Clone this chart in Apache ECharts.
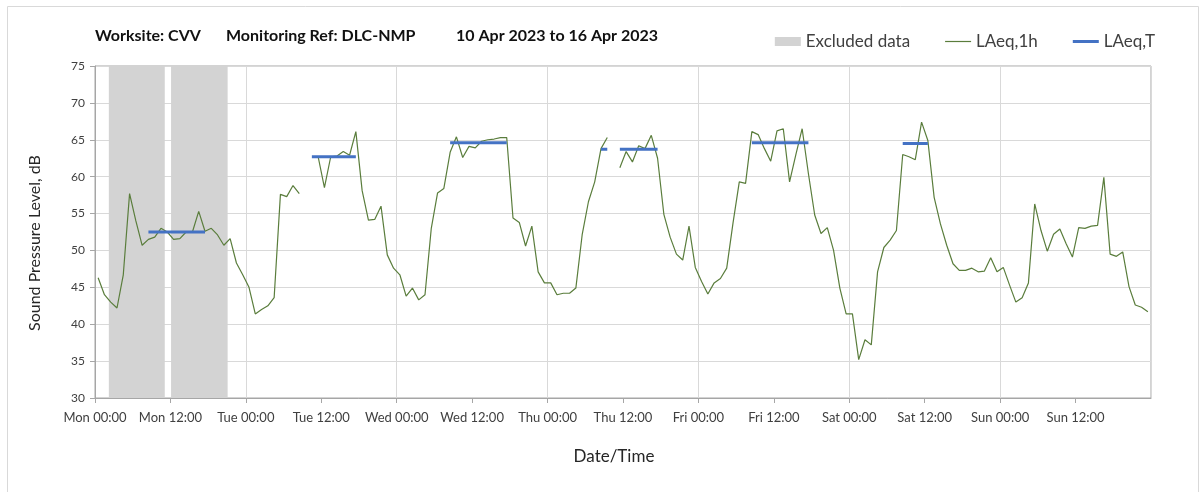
<!DOCTYPE html>
<html>
<head>
<meta charset="utf-8">
<script src="https://cdn.jsdelivr.net/npm/echarts@6/dist/echarts.min.js"></script>
<style>
    html, body { margin: 0; padding: 0; background: #fff; }
    #chart { width: 1203px; height: 492px; }
</style>
</head>
<body>
<div id="chart"></div>
<script>
// hourly LAeq,1h values, Mon 00:00 to Sun 23:00 (null = no data)
const laeq1h = [
    46.3, 44.0, 43.0, 42.2, 46.7, 57.7, 54.0, 50.7, 51.5, 51.8, 53.0, 52.5,
    51.5, 51.6, 52.5, 52.5, 55.3, 52.6, 53.0, 52.1, 50.7, 51.6, 48.3, 46.7,
    45.0, 41.4, 42.0, 42.5, 43.6, 57.6, 57.3, 58.8, 57.7, null, null, 62.7,
    58.5, 62.7, 62.8, 63.4, 62.9, 66.1, 58.1, 54.1, 54.2, 56.0, 49.4, 47.6,
    46.7, 43.8, 44.9, 43.3, 44.0, 53.0, 57.8, 58.4, 63.3, 65.4, 62.6, 64.1,
    63.9, 64.8, 65.0, 65.1, 65.3, 65.3, 54.4, 53.8, 50.6, 53.3, 47.1, 45.6,
    45.6, 44.0, 44.2, 44.2, 44.9, 52.1, 56.6, 59.3, 63.8, 65.3, null, 61.2,
    63.4, 62.0, 64.2, 63.8, 65.6, 62.5, 54.9, 51.8, 49.5, 48.7, 53.3, 47.7,
    45.8, 44.1, 45.6, 46.2, 47.6, 53.7, 59.3, 59.1, 66.1, 65.7, 63.8, 62.1,
    66.2, 66.5, 59.3, 63.0, 66.5, 60.4, 54.8, 52.3, 53.1, 50.0, 44.9, 41.4,
    41.4, 35.2, 37.9, 37.2, 47.1, 50.4, 51.4, 52.7, 63.0, 62.7, 62.3, 67.4,
    64.9, 57.2, 53.6, 50.7, 48.2, 47.3, 47.3, 47.6, 47.1, 47.2, 49.0, 47.1,
    47.7, 45.3, 43.0, 43.6, 45.6, 56.3, 52.7, 49.9, 52.2, 52.9, 50.9, 49.1,
    53.1, 53.0, 53.3, 53.4, 59.9, 49.5, 49.2, 49.8, 45.1, 42.6, 42.3, 41.7
];

// LAeq,T periods (first hour, last hour, level)
const ltStart = [8, 34, 56, 80, 83, 104, 128];
const ltEnd = [17, 41, 65, 81, 89, 113, 132];
const ltValue = [52.5, 62.7, 64.6, 63.7, 63.7, 64.6, 64.5];

// excluded data periods, hours from Mon 00:00
const exclStart = [2.2, 12.1];
const exclEnd = [11.1, 21.1];

const days = ['Mon', 'Tue', 'Wed', 'Thu', 'Fri', 'Sat', 'Sun'];
const font = 'Lato, "Open Sans", sans-serif';

const hourlyData = laeq1h.map((v, i) => [i + 0.5, v]);

const ltData = [];
ltStart.forEach((s, k) => {
    for (let h = s; h <= ltEnd[k]; h++) {
        ltData.push([h + 0.5, ltValue[k]]);
    }
    ltData.push([ltEnd[k] + 1, null]);
});

const exclAreas = exclStart.map((s, k) => [{ xAxis: s }, { xAxis: exclEnd[k] }]);

const chart = echarts.init(document.getElementById('chart'));
chart.setOption({
    animation: false,
    textStyle: { fontFamily: font },
    graphic: [
        { type: 'rect', left: 5, top: 4, shape: { width: 1191, height: 500 },
          style: { fill: 'none', stroke: '#d9d9d9', lineWidth: 1 }, silent: true },
        { type: 'text', left: 95, top: 28,
          style: { text: 'Worksite: CVV', font: 'bold 16px ' + font, fill: '#111' } },
        { type: 'text', left: 226, top: 28,
          style: { text: 'Monitoring Ref: DLC-NMP', font: 'bold 16px ' + font, fill: '#111' } },
        { type: 'text', left: 456, top: 28,
          style: { text: '10 Apr 2023 to 16 Apr 2023', font: 'bold 16px ' + font, fill: '#111' } }
    ],
    legend: {
        right: 43,
        top: 28,
        itemWidth: 26,
        itemHeight: 9,
        itemGap: 35,
        textStyle: { fontSize: 17, color: '#404040', fontFamily: font },
        data: [
            { name: 'Excluded data', icon: 'rect' },
            { name: 'LAeq,1h', icon: 'path://M0,0h26v1.2h-26z' },
            { name: 'LAeq,T', icon: 'path://M0,0h26v3h-26z' }
        ]
    },
    grid: {
        left: 95, right: 52, top: 66, bottom: 94,
        show: true, borderColor: '#a6a6a6', borderWidth: 1
    },
    xAxis: [{
        type: 'value',
        min: 0, max: 168, interval: 12,
        name: 'Date/Time',
        nameLocation: 'middle',
        nameGap: 50,
        nameTextStyle: { fontSize: 17, color: '#262626', padding: [0, 18, 0, 0] },
        axisLine: { lineStyle: { color: '#a6a6a6' } },
        axisTick: { length: 5, lineStyle: { color: '#a6a6a6' } },
        axisLabel: {
            fontSize: 13, color: '#404040', margin: 13, showMaxLabel: false,
            formatter: v => v >= 168 ? '' : days[Math.floor(v / 24)] + (v % 24 === 0 ? ' 00:00' : ' 12:00')
        },
        splitLine: { show: false }
    }, {
        type: 'value',
        min: 0, max: 168, interval: 24,
        position: 'bottom',
        axisLine: { show: false },
        axisTick: { show: false },
        axisLabel: { show: false },
        splitLine: { show: true, lineStyle: { color: '#d9d9d9' } }
    }],
    yAxis: {
        type: 'value',
        min: 30, max: 75, interval: 5,
        name: 'Sound Pressure Level, dB',
        nameLocation: 'middle',
        nameGap: 52,
        nameTextStyle: { fontSize: 16, color: '#262626', padding: [0, 22, 0, 0] },
        axisLine: { show: true, lineStyle: { color: '#a6a6a6' } },
        axisTick: { show: true, length: 5, lineStyle: { color: '#a6a6a6' } },
        axisLabel: { fontSize: 12, color: '#404040', margin: 10 },
        splitLine: { lineStyle: { color: '#d9d9d9' } }
    },
    series: [{
        name: 'Excluded data',
        type: 'line',
        data: [],
        itemStyle: { color: '#d3d3d3' },
        markArea: {
            silent: true,
            itemStyle: { color: '#d3d3d3', opacity: 1 },
            data: exclAreas
        }
    }, {
        name: 'LAeq,1h',
        type: 'line',
        xAxisIndex: 0,
        data: hourlyData,
        symbol: 'none',
        connectNulls: false,
        itemStyle: { color: '#5a7d3c' },
        lineStyle: { color: '#5a7d3c', width: 1.2 }
    }, {
        name: 'LAeq,T',
        type: 'line',
        xAxisIndex: 0,
        data: ltData,
        symbol: 'none',
        connectNulls: false,
        itemStyle: { color: '#4472c4' },
        lineStyle: { color: '#4472c4', width: 3 }
    }]
});
</script>
</body>
</html>
